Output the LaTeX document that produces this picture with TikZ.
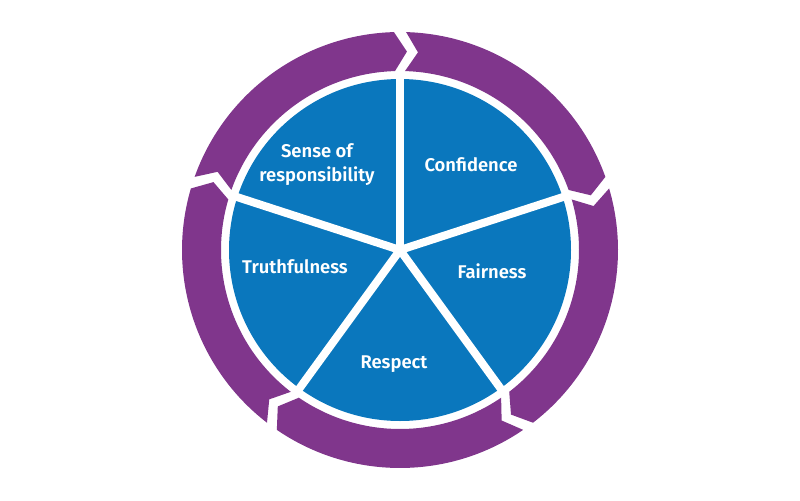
\documentclass[tikz,border=0pt]{standalone}
\usepackage{fontspec}
\setmainfont{Fira Sans}[BoldFont={Fira Sans SemiBold}]
\definecolor{ringpurple}{RGB}{128,54,140}
\definecolor{pieblue}{RGB}{10,119,189}

\begin{document}
\begin{tikzpicture}[x=0.75pt,y=0.75pt,yscale=-1,xscale=1,
  lbl/.style={text=white,font=\fontsize{13.8}{18}\selectfont\bfseries,align=center,inner sep=0.75pt},
  divider/.style={draw=white,line width=6pt},
  ringseg/.style={fill=ringpurple}]
%set diagram left start at 0, and has height of 500
\useasboundingbox (0,0) rectangle (800,500);

\begin{scope}[shift={(400,250)},yscale=-1]
%Shape: Circle [pie]
\fill[pieblue] (0,0) circle (171);
%Straight Lines [dividers]
\foreach \a in {90,18,-54,-126,162}
  \draw[divider] (0,0) -- (\a:175);
%Shape: Arc [ring segments, clockwise arrows]
\foreach \a in {90,18,-54,-126,162}{
  \pgfmathsetmacro{\s}{\a-1.6}
  \pgfmathsetmacro{\e}{\a-70.4}
  \pgfmathsetmacro{\sn}{\s-3.6}
  \pgfmathsetmacro{\et}{\e-3.6}
  \fill[ringseg] (\s:218) arc[start angle=\s,end angle=\e,radius=218] -- (\et:198.5) -- (\e:179) arc[start angle=\e,end angle=\s,radius=179] -- (\sn:198.5) -- cycle;
}
\end{scope}

% Text Node
\node[lbl] (resp) at (317,165) {Sense of\\responsibility};
% Text Node
\node[lbl] (conf) at (471,165) {Confidence};
% Text Node
\node[lbl] (truth) at (295,267) {Truthfulness};
% Text Node
\node[lbl] (fair) at (492,271) {Fairness};
% Text Node
\node[lbl] (respect) at (394,364) {Respect};

\end{tikzpicture}
\end{document}
